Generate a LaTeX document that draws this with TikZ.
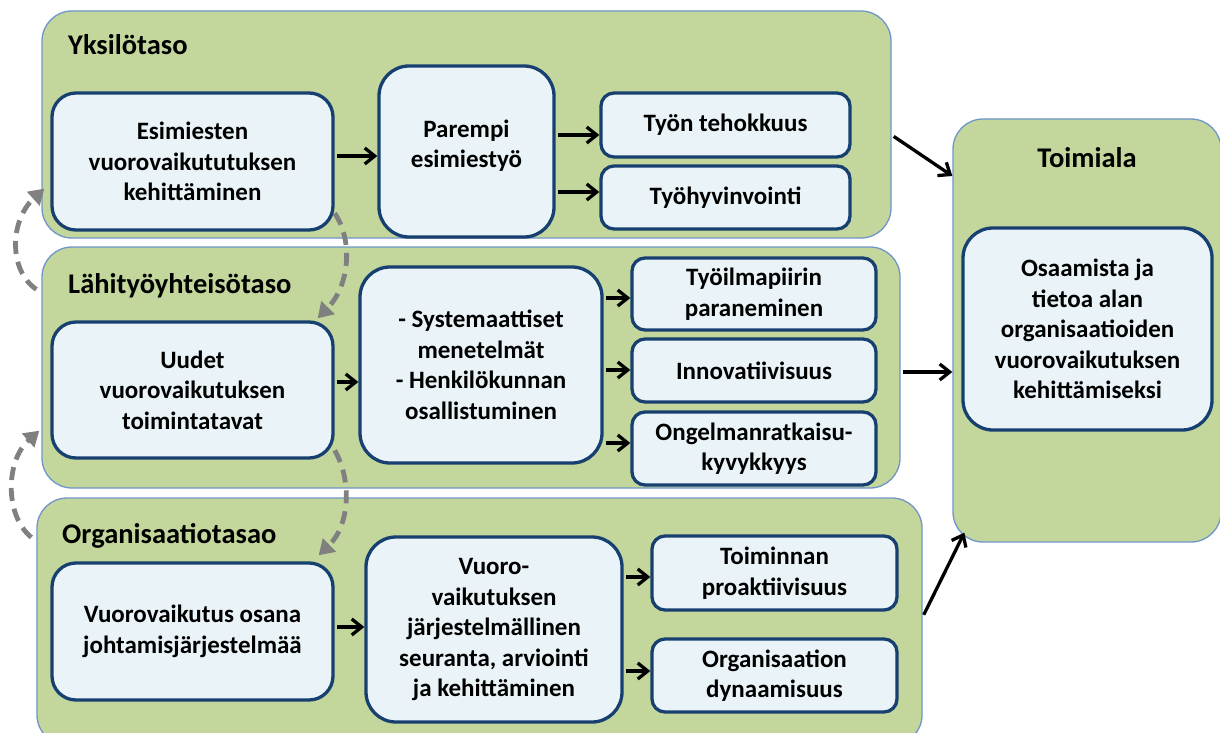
\documentclass[tikz,border=0pt]{standalone}
\usepackage{fontspec}
\setmainfont{Carlito}
\usepackage{tikz}
\usetikzlibrary{arrows.meta}
\definecolor{lvlgreen}{RGB}{195,214,155}
\definecolor{lvlline}{RGB}{110,150,200}
\definecolor{bxfill}{RGB}{234,244,248}
\definecolor{bxline}{RGB}{23,64,112}
\tikzset{
  lvl/.style={rectangle, rounded corners=30pt, draw=lvlline, line width=1.3pt, fill=lvlgreen},
  bx/.style={rectangle, rounded corners=24pt, draw=bxline, line width=3.3pt, fill=bxfill, align=center, inner sep=0pt, font=\fontsize{25}{30.5}\selectfont\bfseries},
  sbx/.style={bx, rounded corners=13pt},
  ttl/.style={inner sep=0pt, font=\fontsize{28.5}{34}\selectfont\bfseries},
  ar/.style={line width=3.3pt, -{Straight Barb[length=10pt,width=16pt]}, shorten <=2.5pt},
  lp/.style={draw=black!50, line width=4.8pt, dash pattern=on 13pt off 8pt, -{Triangle[length=15pt,width=18pt]}}
}
\begin{document}
\begin{tikzpicture}[x=1pt, y=-1pt]
	\useasboundingbox (0,0) rectangle (1220,733);
	% levels
	\node[lvl, minimum width=849pt, minimum height=227pt] (yksilo) at (466.5,124.5) {};
	\node[lvl, minimum width=858pt, minimum height=241pt] (lahi) at (471,367.5) {};
	\node[lvl, minimum width=885pt, minimum height=247pt] (org) at (479.5,621.5) {};
	\node[lvl, minimum width=268pt, minimum height=423pt] (toimiala) at (1087,330.5) {};
	\node[ttl, anchor=base west] (tA) at (68,55) {Yksilötaso};
	\node[ttl, anchor=base west] (tB) at (68,293) {Lähityöyhteisötaso};
	\node[ttl, anchor=base west] (tC) at (62,543) {Organisaatiotasao};
	\node[ttl, anchor=base] (tD) at (1087,167) {Toimiala};
	%
	\node[bx, minimum width=281pt, minimum height=137pt] (esim) at (192.5,161.5) {Esimiesten\\vuorovaikututuksen\\kehittäminen};
	\node[bx, rounded corners=30pt, minimum width=175pt, minimum height=171pt] (parempi) at (466.5,151.5) {Parempi\\esimiestyö\\[-15pt]\mbox{}};
	\node[sbx, minimum width=249pt, minimum height=64pt] (tehok) at (725.5,125) {Työn tehokkuus};
	\node[sbx, minimum width=249pt, minimum height=63pt] (hyvin) at (725.5,197.5) {Työhyvinvointi};
	%
	\node[bx, minimum width=281pt, minimum height=136pt] (uudet) at (192.5,390) {Uudet\\vuorovaikutuksen\\toimintatavat};
	\node[bx, rounded corners=30pt, minimum width=242pt, minimum height=196pt] (syst) at (481,365) {- Systemaattiset\\menetelmät\\- Henkilökunnan\\osallistuminen};
	\node[sbx, minimum width=244pt, minimum height=72pt] (ilmap) at (754,294) {Työilmapiirin\\paraneminen};
	\node[sbx, minimum width=244pt, minimum height=63pt] (innov) at (754,370.5) {Innovatiivisuus};
	\node[sbx, minimum width=244pt, minimum height=73pt] (ongel) at (754,448.5) {Ongelmanratkaisu-\\kyvykkyys};
	%
	\node[bx, minimum width=281pt, minimum height=137pt] (osana) at (192.5,631.5) {Vuorovaikutus osana\\johtamisjärjestelmää};
	\node[bx, rounded corners=30pt, minimum width=256pt, minimum height=185pt] (seur) at (494,629.5) {Vuoro-\\vaikutuksen\\järjestelmällinen\\seuranta, arviointi\\ja kehittäminen};
	\node[sbx, minimum width=245pt, minimum height=74pt] (proakt) at (774.5,573) {Toiminnan\\proaktiivisuus};
	\node[sbx, minimum width=245pt, minimum height=73pt] (dynam) at (774.5,675.5) {Organisaation\\dynaamisuus};
	%
	\node[bx, rounded corners=30pt, minimum width=249pt, minimum height=202pt] (osaam) at (1087.5,329) {Osaamista ja\\tietoa alan\\organisaatioiden\\vuorovaikutuksen\\kehittämiseksi};
	%
	\draw[ar] (esim.east |- 0,156) -- (parempi.west |- 0,156);
	\draw[ar] (parempi.east |- 0,135) -- (tehok.west |- 0,135);
	\draw[ar] (parempi.east |- 0,192) -- (hyvin.west |- 0,192);
	\draw[ar] (uudet.east |- 0,382) -- (syst.west |- 0,382);
	\draw[ar] (syst.east |- 0,298) -- (ilmap.west |- 0,298);
	\draw[ar] (syst.east |- 0,370) -- (innov.west |- 0,370);
	\draw[ar] (syst.east |- 0,443) -- (ongel.west |- 0,443);
	\draw[ar] (osana.east |- 0,627) -- (seur.west |- 0,627);
	\draw[ar] (seur.east |- 0,577) -- (proakt.west |- 0,577);
	\draw[ar] (seur.east |- 0,671) -- (dynam.west |- 0,671);
	% levels into the sector
	\draw[ar] (yksilo.east |- 0,135) -- (toimiala.west |- 0,176);
	\draw[ar] (lahi.east |- 0,372) -- (toimiala.west |- 0,372);
	\draw[ar] (org.east |- 0,617) -- ([xshift=12pt,yshift=10pt]toimiala.south west);
	% feedback loops
	\draw[lp] (esim.-20) .. controls (353,240) and (350,285) .. ([xshift=-17pt,yshift=2pt]uudet.north east);
	\draw[lp] (uudet.-23) .. controls (352,480) and (350,525) .. ([xshift=-16pt,yshift=6pt]osana.north east);
	\draw[lp] ([xshift=-5pt,yshift=-43pt]lahi.north west) .. controls (8,270) and (10,220) .. ([xshift=3pt,yshift=50pt]yksilo.south west);
	\draw[lp] ([xshift=-5pt,yshift=-40pt]org.north west) .. controls (4,515) and (6,460) .. ([xshift=-2pt,yshift=58pt]lahi.south west);
\end{tikzpicture}
\end{document}
